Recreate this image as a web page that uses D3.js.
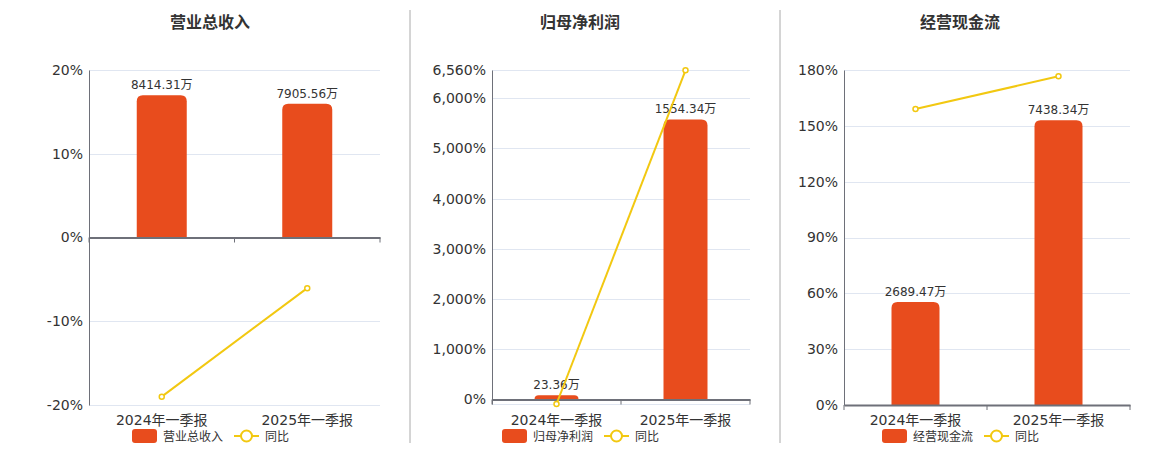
<!DOCTYPE html>
<html><head><meta charset="utf-8">
<script src="https://cdn.jsdelivr.net/npm/d3@7/dist/d3.min.js"></script>
<style>
html,body{margin:0;padding:0;background:#fff;}
text{font-family:"DejaVu Sans","Noto Sans CJK SC",sans-serif;}
</style></head>
<body>
<svg id="chart" width="1160" height="450"></svg>
<script>
const categories = ["2024年一季报", "2025年一季报"];
const titles = ["营业总收入", "归母净利润", "经营现金流"];
const revenue = [8414.31, 7905.56];
const revenueYoY = [-19.0, -6.05];
const netProfit = [23.36, 1554.34];
const netProfitYoY = [-89.5, 6554.0];
const cashFlow = [2689.47, 7438.34];
const cashFlowYoY = [159.0, 176.6];
const revenueTicks = [-20, -10, 0, 10, 20];
const netProfitTicks = [0, 1000, 2000, 3000, 4000, 5000, 6000, 6560];
const cashFlowTicks = [0, 30, 60, 90, 120, 150, 180];
const lineName = "同比";
const unit = "万";

const BAR = "#E84C1D", LINE = "#F2C811", GRID = "#E0E6F1", AXIS = "#6E7079", TXT = "#333";
const svg = d3.select("#chart");

const panels = [
  {title: titles[0], bars: revenue, yoy: revenueYoY, ticks: revenueTicks, cx: 210, x0: 89, x1: 380, yTop: 70, yBot: 405, bw: 50},
  {title: titles[1], bars: netProfit, yoy: netProfitYoY, ticks: netProfitTicks, cx: 580, x0: 492, x1: 750, yTop: 70, yBot: 404, bw: 44},
  {title: titles[2], bars: cashFlow, yoy: cashFlowYoY, ticks: cashFlowTicks, cx: 960, x0: 844, x1: 1130, yTop: 70, yBot: 405, bw: 48}
];

// separators
[410, 780].forEach(x => svg.append("line").attr("x1", x).attr("x2", x).attr("y1", 10).attr("y2", 443)
  .attr("stroke", "#aaa").attr("stroke-width", 1));

function topRoundedRect(x, y, w, h, r) {
  r = Math.min(r, h, w / 2);
  if (h <= 0) return "";
  return `M${x},${y + h}V${y + r}Q${x},${y} ${x + r},${y}H${x + w - r}Q${x + w},${y} ${x + w},${y + r}V${y + h}Z`;
}
const pctFmt = d => (d < 0 ? "-" : "") + d3.format(",")(Math.abs(d)) + "%";

panels.forEach(p => {
  const g = svg.append("g");
  const domain = d3.extent([...p.ticks, ...p.yoy]);
  const y = d3.scaleLinear().domain(domain).range([p.yBot, p.yTop]);
  const x = d3.scaleBand().domain(categories).range([p.x0, p.x1]);
  const barMax = d3.max(p.bars) / 0.85;
  const yb = d3.scaleLinear().domain([0, barMax]).range([y(0), p.yTop]);

  // title
  g.append("text").attr("x", p.cx).attr("y", 28).attr("text-anchor", "middle")
    .attr("font-size", 16).attr("font-weight", "bold").attr("fill", TXT).text(p.title);

  // grid lines
  const gridVals = Array.from(new Set([...p.ticks, domain[0]]));
  g.selectAll(".grid").data(gridVals).join("line")
    .attr("x1", p.x0).attr("x2", p.x1)
    .attr("y1", d => Math.round(y(d)) + 0.5).attr("y2", d => Math.round(y(d)) + 0.5)
    .attr("stroke", GRID).attr("stroke-width", 1);

  // y axis
  const yAxis = d3.axisLeft(y).tickValues(p.ticks).tickSize(0).tickPadding(6).tickFormat(pctFmt);
  const ya = g.append("g").attr("transform", `translate(${p.x0},0)`).call(yAxis);
  ya.select(".domain").attr("stroke", AXIS).attr("stroke-width", 1);
  ya.selectAll("text").attr("font-size", 14).attr("fill", TXT)
    .attr("font-family", '"DejaVu Sans","Noto Sans CJK SC",sans-serif');

  // bars
  g.selectAll(".bar").data(p.bars).join("path")
    .attr("d", (d, i) => {
      const cx = x(categories[i]) + x.bandwidth() / 2;
      const top = yb(d);
      return topRoundedRect(cx - p.bw / 2, top, p.bw, yb(0) - top, 6);
    })
    .attr("fill", BAR);

  // x axis at zero
  const xAxis = d3.axisBottom(x).tickSize(0).tickPadding(0);
  const xa = g.append("g").attr("transform", `translate(0,${y(0)})`).call(xAxis);
  xa.select(".domain").attr("stroke", AXIS).attr("stroke-width", 2);
  xa.selectAll("text").remove();
  const bounds = [p.x0, ...categories.map(c => x(c) + x.bandwidth())];
  xa.selectAll(".tk").data(bounds).join("line")
    .attr("x1", d => d).attr("x2", d => d).attr("y1", 0).attr("y2", 5)
    .attr("stroke", AXIS).attr("stroke-width", 1);

  // category labels
  g.selectAll(".cat").data(categories).join("text")
    .attr("x", d => x(d) + x.bandwidth() / 2).attr("y", 425)
    .attr("text-anchor", "middle").attr("font-size", 14).attr("fill", TXT).text(d => d);

  // bar labels
  g.selectAll(".bl").data(p.bars).join("text")
    .attr("x", (d, i) => x(categories[i]) + x.bandwidth() / 2)
    .attr("y", d => yb(d) - 6)
    .attr("text-anchor", "middle").attr("font-size", 12).attr("fill", TXT)
    .text(d => d3.format(".2f")(d) + unit);

  // line
  const line = d3.line().x((d, i) => x(categories[i]) + x.bandwidth() / 2).y(d => y(d));
  g.append("path").datum(p.yoy).attr("d", line).attr("fill", "none")
    .attr("stroke", LINE).attr("stroke-width", 2);
  g.selectAll(".pt").data(p.yoy).join("circle")
    .attr("cx", (d, i) => x(categories[i]) + x.bandwidth() / 2).attr("cy", d => y(d))
    .attr("r", 2.5).attr("fill", "#fff").attr("stroke", LINE).attr("stroke-width", 1.5);

  // legend
  const lx = p.cx - 78;
  const lg = g.append("g").attr("transform", `translate(${lx},429)`);
  lg.append("rect").attr("x", 0).attr("y", 0).attr("width", 25).attr("height", 14).attr("rx", 3).attr("fill", BAR);
  lg.append("text").attr("x", 31).attr("y", 11.5).attr("font-size", 12).attr("fill", TXT).text(p.title);
  lg.append("line").attr("x1", 102).attr("x2", 127).attr("y1", 7).attr("y2", 7).attr("stroke", LINE).attr("stroke-width", 2);
  lg.append("circle").attr("cx", 114.5).attr("cy", 7).attr("r", 5.5).attr("fill", "#fff").attr("stroke", LINE).attr("stroke-width", 2);
  lg.append("text").attr("x", 133).attr("y", 11.5).attr("font-size", 12).attr("fill", TXT).text(lineName);
});
</script>
</body></html>
